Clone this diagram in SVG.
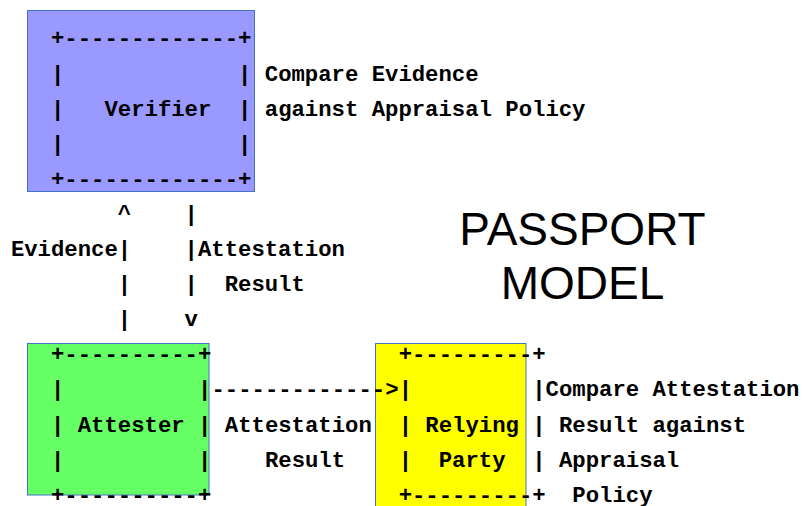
<svg xmlns="http://www.w3.org/2000/svg" width="805" height="506" viewBox="0 0 805 506">
  <style>
    .box { stroke: #4472C4; stroke-width: 1; }
    .mono { font-family: "Liberation Mono", "DejaVu Sans Mono", monospace; font-weight: bold; font-size: 22.28px; fill: #000; white-space: pre; }
    .title { font-family: "Liberation Sans", Arial, sans-serif; font-size: 46px; fill: #000; text-anchor: middle; }
  </style>
  <rect width="805" height="506" fill="#fff"/>

  <!-- Verifier -->
  <g id="verifier">
    <rect class="box" x="27.5" y="10.5" width="227" height="181" fill="#9999FF"/>
    <text class="mono" xml:space="preserve" x="51.01" y="45.4">+-------------+</text>
    <text class="mono" xml:space="preserve" x="51.01" y="80.5">|             | Compare Evidence</text>
    <text class="mono" xml:space="preserve" x="51.01" y="115.6">|   Verifier  | against Appraisal Policy</text>
    <text class="mono" xml:space="preserve" x="51.01" y="150.7">|             |</text>
    <text class="mono" xml:space="preserve" x="51.01" y="185.8">+-------------+</text>
  </g>

  <!-- Attester -->
  <g id="attester">
    <rect class="box" x="27.5" y="343.5" width="181.5" height="151.5" fill="#66FF66"/>
    <text class="mono" xml:space="preserve" x="51.01" y="361.3">+----------+</text>
    <text class="mono" xml:space="preserve" x="51.01" y="396.4">|          |</text>
    <text class="mono" xml:space="preserve" x="51.01" y="431.5">| Attester |</text>
    <text class="mono" xml:space="preserve" x="51.01" y="466.6">|          |</text>
    <text class="mono" xml:space="preserve" x="51.01" y="501.7">+----------+</text>
  </g>

  <!-- Relying Party -->
  <g id="relying-party">
    <rect class="box" x="375.5" y="343.5" width="150.5" height="170" fill="#FFFF00"/>
    <text class="mono" xml:space="preserve" x="398.63" y="361.3">+---------+</text>
    <text class="mono" xml:space="preserve" x="398.63" y="396.4">|         |Compare Attestation</text>
    <text class="mono" xml:space="preserve" x="398.63" y="431.5">| Relying | Result against</text>
    <text class="mono" xml:space="preserve" x="398.63" y="466.6">|  Party  | Appraisal</text>
    <text class="mono" xml:space="preserve" x="398.63" y="501.7">+---------+  Policy</text>
  </g>

  <!-- Connectors -->
  <g id="connectors">
    <!-- Attester to Verifier (Evidence) and Verifier to Attester (Attestation Result) -->
    <text class="mono" xml:space="preserve" x="10.9" y="220.9">        ^    |</text>
    <text class="mono" xml:space="preserve" x="10.9" y="256">Evidence|    |Attestation</text>
    <text class="mono" xml:space="preserve" x="10.9" y="291.1">        |    |  Result</text>
    <text class="mono" xml:space="preserve" x="10.9" y="326.2">        |    v</text>
    <!-- Attester to Relying Party -->
    <text class="mono" xml:space="preserve" x="211.45" y="396.4">-------------&gt;</text>
    <text class="mono" xml:space="preserve" x="224.82" y="431.5">Attestation</text>
    <text class="mono" xml:space="preserve" x="264.93" y="466.6">Result</text>
  </g>

  <!-- Title -->
  <g id="title">
    <text class="title" x="582.5" y="245">PASSPORT</text>
    <text class="title" x="582.5" y="299">MODEL</text>
  </g>
</svg>
